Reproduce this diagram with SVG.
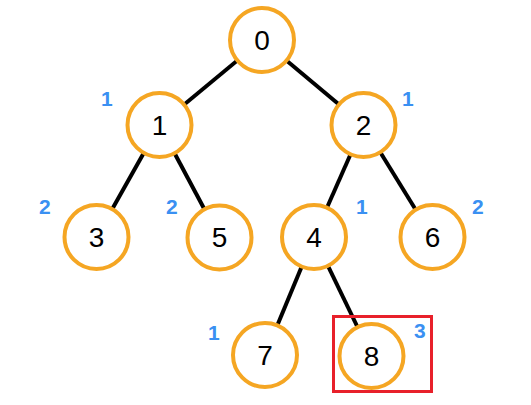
<svg xmlns="http://www.w3.org/2000/svg" width="531" height="405" viewBox="0 0 531 405">
<style>
.n circle{fill:#fff;stroke:#F5A623;stroke-width:4}
.n text{font-family:"Liberation Sans",Arial,sans-serif;font-size:28px;fill:#000;text-anchor:middle;dominant-baseline:central}
.lbl{font-family:"Liberation Sans",Arial,sans-serif;font-size:21px;font-weight:bold;fill:#3A90F2}
#edges line{stroke:#000;stroke-width:4}
</style>
<rect width="531" height="405" fill="#fff"/>
<g id="edges">
<line x1="262" y1="40" x2="159.5" y2="125"/>
<line x1="262" y1="40" x2="363.5" y2="125"/>
<line x1="159.5" y1="125" x2="96.5" y2="237"/>
<line x1="159.5" y1="125" x2="219.5" y2="237.5"/>
<line x1="363.5" y1="125" x2="314" y2="237"/>
<line x1="363.5" y1="125" x2="432.5" y2="237"/>
<line x1="314" y1="237" x2="265" y2="355"/>
<line x1="314" y1="237" x2="371.5" y2="356"/>
</g>
<g id="node0" class="n"><circle cx="262" cy="40" r="32"/><text x="262" y="40">0</text></g>
<g id="node1" class="n"><circle cx="159.5" cy="125" r="32"/><text x="159.5" y="125">1</text></g>
<g id="node2" class="n"><circle cx="363.5" cy="125" r="32"/><text x="363.5" y="125">2</text></g>
<g id="node3" class="n"><circle cx="96.5" cy="237" r="32"/><text x="96.5" y="237">3</text></g>
<g id="node5" class="n"><circle cx="219.5" cy="237.5" r="32"/><text x="219.5" y="237.5">5</text></g>
<g id="node4" class="n"><circle cx="314" cy="237" r="32"/><text x="314" y="237">4</text></g>
<g id="node6" class="n"><circle cx="432.5" cy="237" r="32"/><text x="432.5" y="237">6</text></g>
<g id="node7" class="n"><circle cx="265" cy="355" r="32"/><text x="265" y="355">7</text></g>
<g id="node8" class="n"><circle cx="371.5" cy="356" r="32"/><text x="371.5" y="356">8</text></g>
<rect x="333.5" y="316.5" width="98" height="75" fill="none" stroke="#E8202A" stroke-width="3"/>
<g id="labels">
<text class="lbl" x="101" y="106">1</text>
<text class="lbl" x="402" y="106">1</text>
<text class="lbl" x="39" y="214">2</text>
<text class="lbl" x="166" y="214">2</text>
<text class="lbl" x="356" y="214">1</text>
<text class="lbl" x="472" y="214">2</text>
<text class="lbl" x="208" y="340">1</text>
<text class="lbl" x="414" y="338">3</text>
</g>
</svg>
